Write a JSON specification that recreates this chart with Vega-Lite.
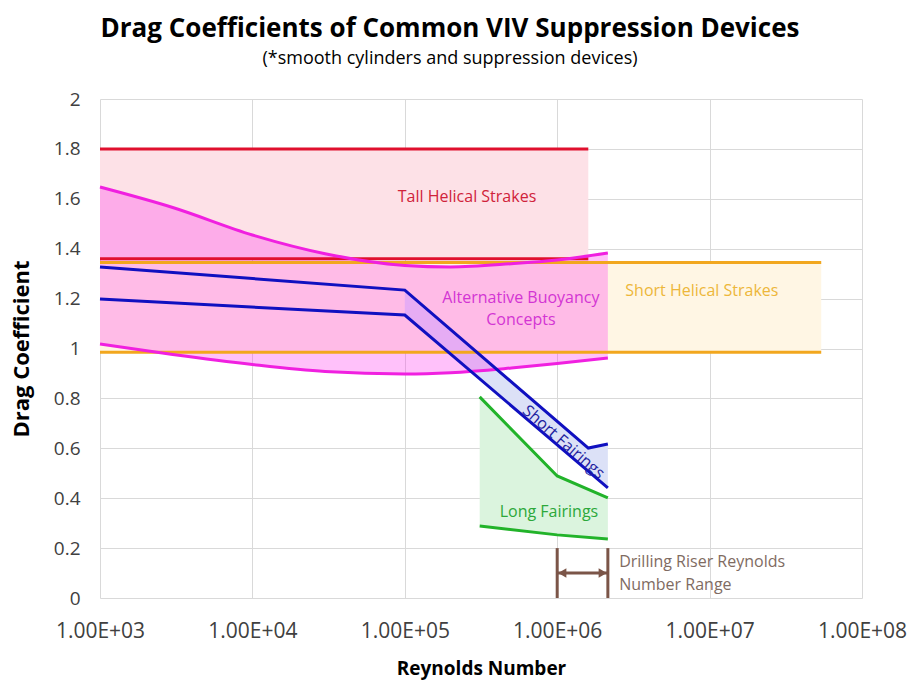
{
  "$schema": "https://vega.github.io/schema/vega-lite/v6.json",
  "width": 762,
  "height": 499,
  "autosize": {"type": "none"},
  "padding": {"left": 100, "top": 99, "right": 49, "bottom": 85},
  "background": "white",
  "config": {
    "font": "Open Sans",
    "view": {"stroke": null},
    "axis": {"gridColor": "#D9D9D9", "gridWidth": 1, "domain": false, "ticks": false, "labelColor": "#404040", "titleColor": "#000000", "titleFontWeight": "bold", "labelOverlap": false, "labelBound": false}
  },
  "title": {
    "text": "Drag Coefficients of Common VIV Suppression Devices",
    "subtitle": "(*smooth cylinders and suppression devices)",
    "fontSize": 26,
    "fontWeight": "bold",
    "color": "#000000",
    "subtitleFontSize": 18,
    "subtitleColor": "#000000",
    "subtitlePadding": 8,
    "anchor": "middle",
    "frame": "group",
    "offset": 22,
    "dx": -31
  },
  "datasets": {
    "red": [
      {"re": 1000, "lo": 1.36, "hi": 1.8},
      {"re": 1600000, "lo": 1.36, "hi": 1.8}
    ],
    "orange": [
      {"re": 1000, "lo": 0.985, "hi": 1.345},
      {"re": 54000000, "lo": 0.985, "hi": 1.345}
    ],
    "magenta": [
      {"re": 1000, "lo": 1.018, "hi": 1.647},
      {"re": 3000, "lo": 0.976, "hi": 1.565},
      {"re": 10000, "lo": 0.936, "hi": 1.455},
      {"re": 30000, "lo": 0.908, "hi": 1.38},
      {"re": 100000, "lo": 0.898, "hi": 1.333},
      {"re": 200000, "lo": 0.903, "hi": 1.327},
      {"re": 500000, "lo": 0.922, "hi": 1.34},
      {"re": 1000000, "lo": 0.94, "hi": 1.355},
      {"re": 2150000, "lo": 0.962, "hi": 1.383}
    ],
    "blueUp": [
      {"re": 1000, "v": 1.327},
      {"re": 100000, "v": 1.234},
      {"re": 1600000, "v": 0.601},
      {"re": 2150000, "v": 0.617}
    ],
    "blueLo": [
      {"re": 1000, "v": 1.198},
      {"re": 100000, "v": 1.134},
      {"re": 2150000, "v": 0.441}
    ],
    "blueFill": [
      {"re": 100000, "lo": 1.134, "hi": 1.234},
      {"re": 1600000, "lo": 0.506, "hi": 0.601},
      {"re": 2150000, "lo": 0.441, "hi": 0.617}
    ],
    "green": [
      {"re": 310000, "lo": 0.289, "hi": 0.806},
      {"re": 1000000, "lo": 0.253, "hi": 0.489},
      {"re": 2150000, "lo": 0.236, "hi": 0.401}
    ],
    "brownV": [
      {"re": 1000000, "lo": 0, "hi": 0.2},
      {"re": 2150000, "lo": 0, "hi": 0.2}
    ],
    "arrow": [
      {"re": 1000000, "re2": 2150000, "v": 0.1}
    ],
    "heads": [
      {"re": 1080000, "v": 0.1, "shape": "triangle-left"},
      {"re": 1990000, "v": 0.1, "shape": "triangle-right"}
    ],
    "labels": [
      {"re": 256000, "v": 1.607, "label": "Tall Helical Strakes", "c": "red"},
      {"re": 8900000, "v": 1.23, "label": "Short Helical Strakes", "c": "orange"},
      {"re": 578000, "v": 1.202, "label": "Alternative Buoyancy", "c": "magenta"},
      {"re": 578000, "v": 1.114, "label": "Concepts", "c": "magenta"},
      {"re": 883000, "v": 0.345, "label": "Long Fairings", "c": "green"}
    ],
    "riser": [
      {"re": 2550000, "v": 0.144, "label": "Drilling Riser Reynolds"},
      {"re": 2550000, "v": 0.052, "label": "Number Range"}
    ],
    "sf": [
      {"re": 1100000, "v": 0.625, "label": "Short Fairings"}
    ]
  },
  "encoding": {
    "x": {
      "field": "re",
      "type": "quantitative",
      "scale": {"type": "log", "domain": [1000, 100000000]},
      "axis": {
        "values": [1000, 10000, 100000, 1000000, 10000000, 100000000],
        "labelExpr": "'1.00E+0' + round(log(datum.value)/LN10)",
        "labelFontSize": 21,
        "labelPadding": 22,
        "labelFlush": false,
        "title": "Reynolds Number",
        "titleFontSize": 19,
        "titlePadding": 18
      }
    }
  },
  "layer": [
    {
      "data": {"name": "red"},
      "mark": {"type": "area", "color": "#FDE1E7"},
      "encoding": {
        "y": {
          "field": "lo",
          "type": "quantitative",
          "scale": {"domain": [0, 2], "nice": false},
          "axis": {
            "values": [0, 0.2, 0.4, 0.6, 0.8, 1, 1.2, 1.4, 1.6, 1.8, 2],
            "format": "~g",
            "labelFontSize": 19,
            "labelPadding": 20,
            "title": "Drag Coefficient",
            "titleFontSize": 22,
            "titlePadding": 20
          }
        },
        "y2": {"field": "hi"}
      }
    },
    {
      "data": {"name": "orange"},
      "mark": {"type": "area", "color": "#FFF6E4"},
      "encoding": {
        "y": {"field": "lo", "type": "quantitative", "scale": {"domain": [0, 2], "nice": false}},
        "y2": {"field": "hi"}
      }
    },
    {
      "data": {"name": "blueFill"},
      "mark": {"type": "area", "color": "#DCE1F7"},
      "encoding": {
        "y": {"field": "lo", "type": "quantitative", "scale": {"domain": [0, 2], "nice": false}},
        "y2": {"field": "hi"}
      }
    },
    {
      "data": {"name": "green"},
      "mark": {"type": "area", "color": "#DBF4DE"},
      "encoding": {
        "y": {"field": "lo", "type": "quantitative", "scale": {"domain": [0, 2], "nice": false}},
        "y2": {"field": "hi"}
      }
    },
    {
      "data": {"name": "magenta"},
      "mark": {"type": "area", "color": "#FF33EE", "opacity": 0.3, "interpolate": "monotone"},
      "encoding": {
        "y": {"field": "lo", "type": "quantitative", "scale": {"domain": [0, 2], "nice": false}},
        "y2": {"field": "hi"}
      }
    },
    {
      "data": {"name": "orange"},
      "mark": {"type": "line", "color": "#F2A71E", "strokeWidth": 3},
      "encoding": {"y": {"field": "lo", "type": "quantitative", "scale": {"domain": [0, 2], "nice": false}}}
    },
    {
      "data": {"name": "orange"},
      "mark": {"type": "line", "color": "#F2A71E", "strokeWidth": 3},
      "encoding": {"y": {"field": "hi", "type": "quantitative", "scale": {"domain": [0, 2], "nice": false}}}
    },
    {
      "data": {"name": "red"},
      "mark": {"type": "line", "color": "#E0102E", "strokeWidth": 3},
      "encoding": {"y": {"field": "lo", "type": "quantitative", "scale": {"domain": [0, 2], "nice": false}}}
    },
    {
      "data": {"name": "red"},
      "mark": {"type": "line", "color": "#E0102E", "strokeWidth": 3},
      "encoding": {"y": {"field": "hi", "type": "quantitative", "scale": {"domain": [0, 2], "nice": false}}}
    },
    {
      "data": {"name": "magenta"},
      "mark": {"type": "line", "color": "#F020E0", "strokeWidth": 3, "interpolate": "monotone"},
      "encoding": {"y": {"field": "lo", "type": "quantitative", "scale": {"domain": [0, 2], "nice": false}}}
    },
    {
      "data": {"name": "magenta"},
      "mark": {"type": "line", "color": "#F020E0", "strokeWidth": 3, "interpolate": "monotone"},
      "encoding": {"y": {"field": "hi", "type": "quantitative", "scale": {"domain": [0, 2], "nice": false}}}
    },
    {
      "data": {"name": "blueUp"},
      "mark": {"type": "line", "color": "#1010C0", "strokeWidth": 3},
      "encoding": {"y": {"field": "v", "type": "quantitative", "scale": {"domain": [0, 2], "nice": false}}}
    },
    {
      "data": {"name": "blueLo"},
      "mark": {"type": "line", "color": "#1010C0", "strokeWidth": 3},
      "encoding": {"y": {"field": "v", "type": "quantitative", "scale": {"domain": [0, 2], "nice": false}}}
    },
    {
      "data": {"name": "green"},
      "mark": {"type": "line", "color": "#22B32A", "strokeWidth": 3},
      "encoding": {"y": {"field": "lo", "type": "quantitative", "scale": {"domain": [0, 2], "nice": false}}}
    },
    {
      "data": {"name": "green"},
      "mark": {"type": "line", "color": "#22B32A", "strokeWidth": 3},
      "encoding": {"y": {"field": "hi", "type": "quantitative", "scale": {"domain": [0, 2], "nice": false}}}
    },
    {
      "data": {"name": "brownV"},
      "mark": {"type": "rule", "color": "#7B5548", "strokeWidth": 3},
      "encoding": {
        "y": {"field": "lo", "type": "quantitative", "scale": {"domain": [0, 2], "nice": false}},
        "y2": {"field": "hi"}
      }
    },
    {
      "data": {"name": "arrow"},
      "mark": {"type": "rule", "color": "#7B5548", "strokeWidth": 3},
      "encoding": {
        "x2": {"field": "re2"},
        "y": {"field": "v", "type": "quantitative", "scale": {"domain": [0, 2], "nice": false}}
      }
    },
    {
      "data": {"name": "heads"},
      "mark": {"type": "point", "filled": true, "color": "#7B5548", "size": 90, "opacity": 1},
      "encoding": {
        "y": {"field": "v", "type": "quantitative", "scale": {"domain": [0, 2], "nice": false}},
        "shape": {"field": "shape", "type": "nominal", "scale": null, "legend": null}
      }
    },
    {
      "data": {"name": "labels"},
      "mark": {"type": "text", "fontSize": 16, "align": "center", "baseline": "middle"},
      "encoding": {
        "y": {"field": "v", "type": "quantitative", "scale": {"domain": [0, 2], "nice": false}},
        "text": {"field": "label"},
        "color": {
          "field": "c",
          "type": "nominal",
          "scale": {"domain": ["red", "orange", "magenta", "green"], "range": ["#D0223A", "#EDB73A", "#D335D3", "#2CA83A"]},
          "legend": null
        }
      }
    },
    {
      "data": {"name": "sf"},
      "mark": {"type": "text", "fontSize": 16, "align": "center", "baseline": "middle", "angle": 41, "color": "#1F1FA0"},
      "encoding": {
        "y": {"field": "v", "type": "quantitative", "scale": {"domain": [0, 2], "nice": false}},
        "text": {"field": "label"}
      }
    },
    {
      "data": {"name": "riser"},
      "mark": {"type": "text", "fontSize": 16, "align": "left", "baseline": "middle", "color": "#7F6B62"},
      "encoding": {
        "y": {"field": "v", "type": "quantitative", "scale": {"domain": [0, 2], "nice": false}},
        "text": {"field": "label"}
      }
    }
  ]
}
